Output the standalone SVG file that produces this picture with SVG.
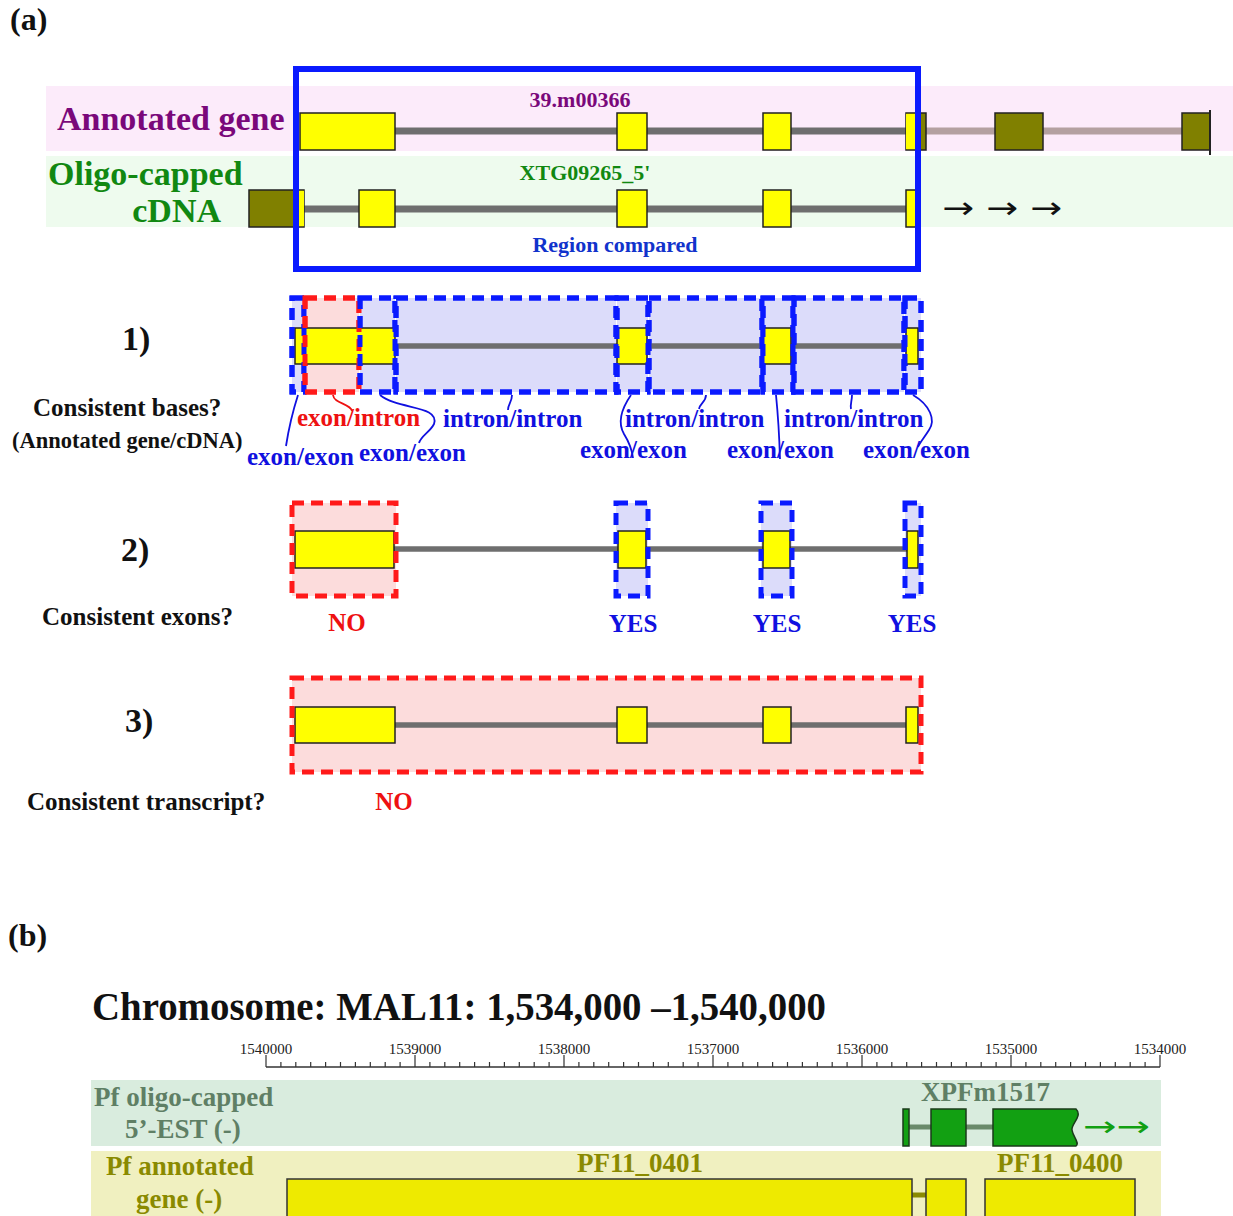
<svg xmlns="http://www.w3.org/2000/svg" width="1233" height="1216" viewBox="0 0 1233 1216">
<defs>
<style>
text{font-family:"Liberation Serif","Times New Roman",serif;font-weight:bold}
.ex{fill:#ffff00;stroke:#222;stroke-width:1.5}
.ol{fill:#808000;stroke:#222;stroke-width:1.5}
.ln{stroke:#6e6e6e;stroke-width:7;fill:none}
.ln2{stroke:#6e6e6e;stroke-width:5.5;fill:none}
.bd{fill:#dcdcfa;stroke:#0a1aff;stroke-width:5;stroke-dasharray:12 7}
.bdo{fill:none;stroke:#0a1aff;stroke-width:5;stroke-dasharray:12 7}
.rd{fill:#fcdcdc;stroke:#ff1a1a;stroke-width:5;stroke-dasharray:12 7}
.rdo{fill:none;stroke:#ff1a1a;stroke-width:5;stroke-dasharray:12 7}
.bl{fill:#1010e0;font-size:25px}
.rl{fill:#ee1111;font-size:25px}
.k{fill:#111;font-size:25px}
.br{fill:none;stroke:#1010e0;stroke-width:1.8}
.tk{stroke:#333;stroke-width:1.2}
.rt{font-weight:normal;font-size:15px;fill:#222;text-anchor:middle}
.gx{fill:#12a012;stroke:#1a3a1a;stroke-width:1.5}
.yx{fill:#eeea00;stroke:#333;stroke-width:1.5}
.ar{font-family:"DejaVu Sans",sans-serif;font-weight:normal}
</style>
</defs>
<rect width="1233" height="1216" fill="#fff"/>

<g id="label-a"><text x="10" y="30" font-size="32" fill="#111">(a)</text></g>

<g id="band-annotated">
<rect x="46" y="86" width="1187" height="65" fill="#fcebfa"/>
<text x="57" y="130" font-size="34" fill="#7a087a">Annotated gene</text>
</g>
<g id="band-cdna">
<rect x="46" y="156" width="1187" height="71" fill="#eefbee"/>
<text x="48" y="185" font-size="34" fill="#118811">Oligo-capped</text>
<text x="221" y="222" font-size="34" fill="#118811" text-anchor="end">cDNA</text>
</g>

<g id="gene-annotated">
<line x1="395" y1="131" x2="906" y2="131" class="ln"/>
<line x1="926" y1="131" x2="1182" y2="131" stroke="#b4a0a0" stroke-width="7"/>
<rect x="300" y="113" width="95" height="37" class="ex"/>
<rect x="617" y="113" width="30" height="37" class="ex"/>
<rect x="763" y="113" width="28" height="37" class="ex"/>
<rect x="906" y="113" width="20" height="37" class="ol"/>
<rect x="906" y="113.8" width="13" height="35.4" fill="#ffff00"/>
<rect x="995" y="113" width="48" height="37" class="ol"/>
<rect x="1182" y="113" width="28" height="37" class="ol"/>
<line x1="1210" y1="110" x2="1210" y2="155" stroke="#222" stroke-width="2"/>
<text x="580" y="107" font-size="22" fill="#7a087a" text-anchor="middle">39.m00366</text>
</g>

<g id="gene-cdna">
<line x1="304" y1="209" x2="906" y2="209" class="ln"/>
<rect x="249" y="190" width="55" height="37" class="ol"/>
<rect x="295" y="190.8" width="9" height="35.4" fill="#ffff00"/>
<rect x="359" y="190" width="36" height="37" class="ex"/>
<rect x="617" y="190" width="30" height="37" class="ex"/>
<rect x="763" y="190" width="28" height="37" class="ex"/>
<rect x="906" y="190" width="10" height="37" class="ex"/>
<text x="585" y="180" font-size="22" fill="#118811" text-anchor="middle">XTG09265_5'</text>
<text x="942" y="218" font-size="30" fill="#111" class="ar" textLength="120" lengthAdjust="spacingAndGlyphs">→ → →</text>
</g>

<g id="region-compared">
<rect x="296" y="69" width="622" height="200" fill="none" stroke="#0a1aff" stroke-width="6"/>
<text x="615" y="252" font-size="22" fill="#1133cc" text-anchor="middle">Region compared</text>
</g>

<g id="step1">
<text x="122" y="350" font-size="34" fill="#111">1)</text>
<text x="33" y="416" class="k">Consistent bases?</text>
<text x="12" y="448" font-size="22.5" fill="#111">(Annotated gene/cDNA)</text>
<rect x="292" y="298" width="12" height="94" class="bd"/>
<rect x="305" y="298" width="54" height="94" class="rd"/>
<rect x="360" y="298" width="35" height="94" class="bd"/>
<rect x="396" y="298" width="220" height="94" class="bd"/>
<rect x="617" y="298" width="31" height="94" class="bd"/>
<rect x="649" y="298" width="113" height="94" class="bd"/>
<rect x="763" y="298" width="30" height="94" class="bd"/>
<rect x="794" y="298" width="110" height="94" class="bd"/>
<rect x="905" y="298" width="16" height="94" class="bd"/>
<line x1="395" y1="346" x2="906" y2="346" class="ln2"/>
<rect x="295" y="328" width="100" height="36" class="ex"/>
<rect x="617" y="328" width="30" height="36" class="ex"/>
<rect x="763" y="328" width="28" height="36" class="ex"/>
<rect x="906" y="328" width="12" height="36" class="ex"/>
<rect x="292" y="298" width="12" height="94" class="bdo"/>
<rect x="305" y="298" width="54" height="94" class="rdo"/>
<rect x="360" y="298" width="35" height="94" class="bdo"/>
<rect x="396" y="298" width="220" height="94" class="bdo"/>
<rect x="617" y="298" width="31" height="94" class="bdo"/>
<rect x="649" y="298" width="113" height="94" class="bdo"/>
<rect x="763" y="298" width="30" height="94" class="bdo"/>
<rect x="794" y="298" width="110" height="94" class="bdo"/>
<rect x="905" y="298" width="16" height="94" class="bdo"/>
</g>

<g id="step1-labels">
<text x="297" y="426" class="rl">exon/intron</text>
<text x="443" y="427" class="bl">intron/intron</text>
<text x="625" y="427" class="bl">intron/intron</text>
<text x="784" y="427" class="bl">intron/intron</text>
<text x="247" y="465" class="bl">exon/exon</text>
<text x="359" y="461" class="bl">exon/exon</text>
<text x="580" y="458" class="bl">exon/exon</text>
<text x="727" y="458" class="bl">exon/exon</text>
<text x="863" y="458" class="bl">exon/exon</text>
</g>

<g id="connectors">
<path d="M298,395 Q290,420 286,446" class="br"/>
<path d="M333,395 C334,404 350,403 352,411" fill="none" stroke="#ee1111" stroke-width="1.8"/>
<path d="M380,395 C398,410 440,405 434,424 C430,432 421,436 419,443" class="br"/>
<path d="M512,395 C512,402 508,404 508,410" class="br"/>
<path d="M631,395 C622,408 617,422 624,434 C629,442 632,450 633,458" class="br"/>
<path d="M706,395 C706,402 700,403 699,409" class="br"/>
<path d="M776,395 Q779,425 780,459" class="br"/>
<path d="M852,395 C852,401 850,404 851,409" class="br"/>
<path d="M913,395 C930,405 936,420 929,430 C924,438 920,442 918,447" class="br"/>
</g>

<g id="step2">
<text x="121" y="561" font-size="34" fill="#111">2)</text>
<text x="42" y="625" class="k">Consistent exons?</text>
<rect x="292" y="503" width="104" height="93" fill="#fcdcdc"/>
<rect x="616" y="503" width="32" height="93" fill="#dcdcfa"/>
<rect x="761" y="503" width="31" height="93" fill="#dcdcfa"/>
<rect x="905" y="503" width="16" height="93" fill="#dcdcfa"/>
<line x1="394" y1="549" x2="908" y2="549" class="ln2"/>
<rect x="295" y="531" width="99" height="37" class="ex"/>
<rect x="618" y="531" width="28" height="37" class="ex"/>
<rect x="763" y="531" width="27" height="37" class="ex"/>
<rect x="907" y="531" width="11" height="37" class="ex"/>
<rect x="292" y="503" width="104" height="93" class="rdo"/>
<rect x="616" y="503" width="32" height="93" class="bdo"/>
<rect x="761" y="503" width="31" height="93" class="bdo"/>
<rect x="905" y="503" width="16" height="93" class="bdo"/>
<text x="347" y="631" class="rl" text-anchor="middle">NO</text>
<text x="633" y="632" class="bl" text-anchor="middle">YES</text>
<text x="777" y="632" class="bl" text-anchor="middle">YES</text>
<text x="912" y="632" class="bl" text-anchor="middle">YES</text>
</g>

<g id="step3">
<text x="125" y="732" font-size="34" fill="#111">3)</text>
<text x="27" y="810" class="k">Consistent transcript?</text>
<rect x="292" y="678" width="629" height="94" fill="#fcdcdc"/>
<line x1="395" y1="725" x2="906" y2="725" class="ln2"/>
<rect x="295" y="707" width="100" height="36" class="ex"/>
<rect x="617" y="707" width="30" height="36" class="ex"/>
<rect x="763" y="707" width="28" height="36" class="ex"/>
<rect x="906" y="707" width="12" height="36" class="ex"/>
<rect x="292" y="678" width="629" height="94" class="rdo"/>
<text x="394" y="810" class="rl" text-anchor="middle">NO</text>
</g>

<g id="label-b"><text x="8" y="946" font-size="32" fill="#111">(b)</text></g>

<g id="title-b"><text x="92" y="1020" font-size="39" fill="#111" textLength="734" lengthAdjust="spacingAndGlyphs">Chromosome: MAL11: 1,534,000 –1,540,000</text></g>

<g id="ruler">
<line x1="266" y1="1067" x2="1160" y2="1067" stroke="#333" stroke-width="1.5"/>
<path class="tk" d="M266,1055V1067M415,1055V1067M564,1055V1067M713,1055V1067M862,1055V1067M1011,1055V1067M1160,1055V1067"/>
<path class="tk" d="M280.9,1062V1067M295.8,1062V1067M310.7,1062V1067M325.6,1062V1067M340.5,1062V1067M355.4,1062V1067M370.3,1062V1067M385.2,1062V1067M400.1,1062V1067
M429.9,1062V1067M444.8,1062V1067M459.7,1062V1067M474.6,1062V1067M489.5,1062V1067M504.4,1062V1067M519.3,1062V1067M534.2,1062V1067M549.1,1062V1067
M578.9,1062V1067M593.8,1062V1067M608.7,1062V1067M623.6,1062V1067M638.5,1062V1067M653.4,1062V1067M668.3,1062V1067M683.2,1062V1067M698.1,1062V1067
M727.9,1062V1067M742.8,1062V1067M757.7,1062V1067M772.6,1062V1067M787.5,1062V1067M802.4,1062V1067M817.3,1062V1067M832.2,1062V1067M847.1,1062V1067
M876.9,1062V1067M891.8,1062V1067M906.7,1062V1067M921.6,1062V1067M936.5,1062V1067M951.4,1062V1067M966.3,1062V1067M981.2,1062V1067M996.1,1062V1067
M1025.9,1062V1067M1040.8,1062V1067M1055.7,1062V1067M1070.6,1062V1067M1085.5,1062V1067M1100.4,1062V1067M1115.3,1062V1067M1130.2,1062V1067M1145.1,1062V1067"/>
<text x="266" y="1054" class="rt">1540000</text>
<text x="415" y="1054" class="rt">1539000</text>
<text x="564" y="1054" class="rt">1538000</text>
<text x="713" y="1054" class="rt">1537000</text>
<text x="862" y="1054" class="rt">1536000</text>
<text x="1011" y="1054" class="rt">1535000</text>
<text x="1160" y="1054" class="rt">1534000</text>
</g>

<g id="track-est">
<rect x="91" y="1080" width="1070" height="66" fill="#d9ecde"/>
<text x="94" y="1106" font-size="27" fill="#5f7f65">Pf oligo-capped</text>
<text x="125" y="1138" font-size="27" fill="#5f7f65">5’-EST (-)</text>
<text x="921" y="1101" font-size="27" fill="#5f7f65">XPFm1517</text>
<line x1="909" y1="1127" x2="993" y2="1127" stroke="#6a8a6a" stroke-width="5"/>
<rect x="903" y="1109" width="6" height="37" class="gx"/>
<rect x="931" y="1109" width="35" height="37" class="gx"/>
<path d="M993,1109 H1076 C1083,1116 1071,1124 1072,1130 C1073,1137 1080,1143 1076,1146 H993 Z" class="gx"/>
<text x="1083" y="1136" font-size="28" fill="#12a012" class="ar" textLength="67" lengthAdjust="spacingAndGlyphs">→→</text>
</g>

<g id="track-annotated">
<rect x="91" y="1151" width="1070" height="65" fill="#f0f0c0"/>
<text x="106" y="1175" font-size="27" fill="#8a8a00">Pf annotated</text>
<text x="136" y="1208" font-size="27" fill="#8a8a00">gene (-)</text>
<text x="640" y="1172" font-size="27" fill="#8a8a00" text-anchor="middle">PF11_0401</text>
<text x="1060" y="1172" font-size="27" fill="#8a8a00" text-anchor="middle">PF11_0400</text>
<line x1="912" y1="1195" x2="926" y2="1195" stroke="#8a8a00" stroke-width="5"/>
<rect x="287" y="1179" width="625" height="40" class="yx"/>
<rect x="926" y="1179" width="40" height="40" class="yx"/>
<rect x="985" y="1179" width="150" height="40" class="yx"/>
</g>
</svg>
